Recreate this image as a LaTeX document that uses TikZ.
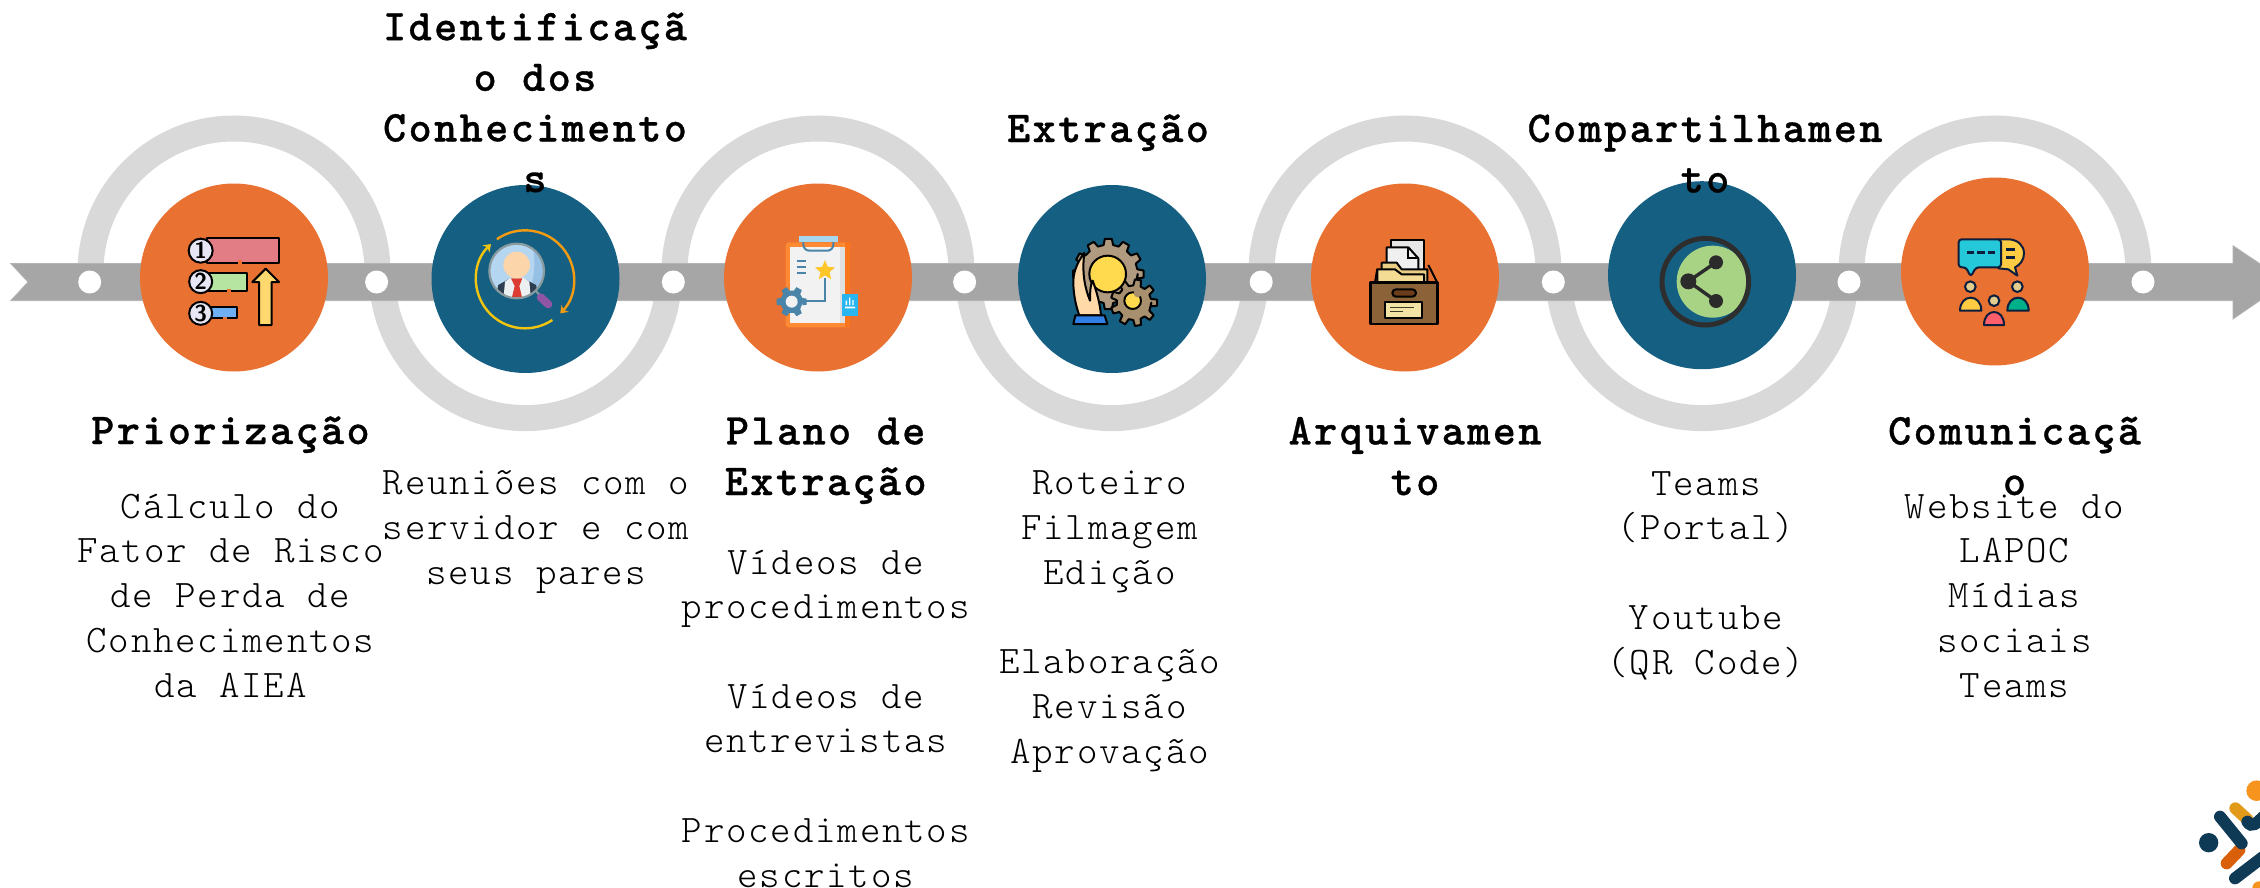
\documentclass[tikz,border=0pt]{standalone}
\usepackage{fontspec}
\usetikzlibrary{arrows.meta,shapes.geometric,calc}
\newfontfamily\bodyfam[LetterSpace=4.6]{Latin Modern Mono Light}
\newfontfamily\titlefam[LetterSpace=5.5,BoldFeatures={FakeBold=0.7}]{Latin Modern Mono Light}
\definecolor{orangeC}{HTML}{E97132}
\definecolor{blueC}{HTML}{156082}
\definecolor{ringC}{HTML}{D9D9D9}
\definecolor{bandC}{HTML}{A6A6A6}
\definecolor{inkC}{HTML}{0B1E3D}
\definecolor{logoC}{HTML}{0E3A55}
\definecolor{gearB}{HTML}{4A84A8}
\definecolor{paleC}{HTML}{E6E6F5}
\definecolor{cyanC}{HTML}{24C8D8}
\definecolor{sunC}{HTML}{FFCB42}
\tikzset{
  ringarc/.style={draw=ringC,line width=13pt},
  disc/.style={circle,minimum size=94pt,inner sep=0pt,draw=none},
  orangedisc/.style={disc,fill=orangeC},
  bluedisc/.style={disc,fill=blueC},
  hole/.style={circle,fill=white,minimum size=11.5pt,inner sep=0pt},
  titletxt/.style={anchor=base,inner sep=0pt,align=center,font=\titlefam\bfseries\fontsize{22}{25.3}\selectfont},
  bodytxt/.style={anchor=base,inner sep=0pt,align=center,font=\bodyfam\fontsize{19.5}{22.35}\selectfont},
  iconbox/.style={x=0.16667pt,y=-0.16667pt},
  ol/.style={draw=black,line width=1pt,line join=round},
  oln/.style={draw=inkC,line width=1pt,line join=round},
  numtxt/.style={inner sep=0pt,font=\sffamily\bfseries\fontsize{11.5}{11.5}\selectfont}
}
\newcommand{\gearat}[6]{%
  \begin{scope}[shift={(#1,#2)}]
    \draw[#6] (0:#4) \foreach \k [evaluate=\k as \a using 360/#3*\k] in {1,...,#3}{
      -- ({\a-180/#3*0.62}:#4) -- ({\a-180/#3*0.38}:#5) -- ({\a+180/#3*0.38}:#5) -- ({\a+180/#3*0.62}:#4)
    } -- cycle;
  \end{scope}}
\begin{document}
\begin{tikzpicture}[x=0.5pt,y=-0.5pt]
\useasboundingbox (0,0) rectangle (2260,888);
\clip (0,0) rectangle (2260,888);
% rings
\foreach \cx in {234,818,1405,1995}{
  \draw[ringarc] (\cx-143.5,272) arc[start angle=180,end angle=360,radius=143.5];
}
\foreach \cx in {525.5,1112,1702}{
  \draw[ringarc] (\cx-143.5,274.6) arc[start angle=180,end angle=0,radius=143.5];
}
% band
\fill[bandC,draw=bandC!85!white,line width=0.4pt]
  (10.7,263.5) -- (2233,263.5) -- (2233,245.7) -- (2287,282) -- (2233,319) -- (2233,300.7) -- (10.7,300.7) -- (28,282) -- cycle;
% holes
\node[hole] (h1) at (89.7,282) {};
\node[hole] (h2) at (376.6,282) {};
\node[hole] (h3) at (673.3,282) {};
\node[hole] (h4) at (964.6,282) {};
\node[hole] (h5) at (1261.2,282) {};
\node[hole] (h6) at (1553.3,282) {};
\node[hole] (h7) at (1849,282) {};
\node[hole] (h8) at (2143,282) {};
% discs
\node[orangedisc] (c1) at (234,277.5) {};
\node[bluedisc]   (c2) at (525.5,279) {};
\node[orangedisc] (c3) at (818,277.5) {};
\node[bluedisc]   (c4) at (1112,279) {};
\node[orangedisc] (c5) at (1405,277.5) {};
\node[bluedisc]   (c6) at (1702,275.2) {};
\node[orangedisc] (c7) at (1995,271.5) {};

% icon 1 : ranking
\begin{scope}[shift={(170,210)},iconbox]
  \draw[ol,fill={rgb,255:red,226;green,125;blue,133}] (110,85) rectangle (326,160);
  \fill[orangeC] (205,150) rectangle (217,168);
  \draw[ol,fill={rgb,255:red,181;green,229;blue,160}] (110,188) rectangle (232,242);
  \fill[orangeC] (170,236) rectangle (182,248);
  \draw[ol,fill={rgb,255:red,111;green,176;blue,245}] (115,292) rectangle (202,325);
  \fill[orangeC] (160,320) rectangle (172,330);
  \node[circle,ol,fill=paleC,minimum size=12pt,inner sep=0pt,numtxt] (n1) at (92,122) {1};
  \node[circle,ol,fill=paleC,minimum size=11.5pt,inner sep=0pt,numtxt] (n2) at (92,215) {2};
  \node[circle,ol,fill=paleC,minimum size=11.5pt,inner sep=0pt,numtxt] (n3) at (92,310) {3};
  \draw[ol,fill={rgb,255:red,255;green,217;blue,112}] (287,176) -- (327,216) -- (305,216) -- (305,345) -- (267,345) -- (267,216) -- (247,216) -- cycle;
\end{scope}

% icon 2 : person under magnifier
\begin{scope}[shift={(450,210)},iconbox]
  \draw[line width=1.2pt,draw={rgb,255:red,243;green,156;blue,18},-{Stealth[length=3.5pt,width=5pt]}] (225,208)++(-125:147) arc[start angle=-125,end angle=44,radius=147];
  \draw[line width=1.2pt,draw={rgb,255:red,241;green,196;blue,15},-{Stealth[length=3.5pt,width=5pt]}] (225,208)++(56:147) arc[start angle=56,end angle=226,radius=147];
  \draw[line width=1pt,draw={rgb,255:red,138;green,155;blue,160}] (255,240) -- (275,262);
  \draw[line width=4pt,line cap=round,draw={rgb,255:red,144;green,86;blue,166}] (272,262) -- (295,283);
  \fill[fill={rgb,255:red,181;green,214;blue,240}] (200,183) circle[radius=82];
  \begin{scope}
    \clip (200,183) circle[radius=82];
    \fill[fill={rgb,255:red,150;green,192;blue,228}] (245,100) -- (290,100) -- (290,270) -- (225,270) .. controls (255,220) and (260,150) .. (245,100) -- cycle;
    \fill[fill={rgb,255:red,44;green,62;blue,80}] (135,270) -- (145,225) -- (180,205) -- (220,205) -- (258,225) -- (268,270) -- cycle;
    \fill[fill={rgb,255:red,236;green,240;blue,241}] (160,270) -- (165,215) -- (182,203) -- (220,203) -- (238,215) -- (243,270) -- cycle;
    \fill[fill={rgb,255:red,220;green,60;blue,50}] (183,205) -- (217,205) -- (208,228) -- (218,270) -- (184,270) -- (194,228) -- cycle;
  \end{scope}
  \fill[fill={rgb,255:red,253;green,213;blue,171}] (200,165) circle[radius=40];
  \draw[line width=1.1pt,draw={rgb,255:red,138;green,155;blue,160}] (200,183) circle[radius=82];
\end{scope}

% icon 3 : clipboard
\begin{scope}[shift={(745,210)},iconbox]
  \fill[rounded corners=1.5pt,fill={rgb,255:red,254;green,138;blue,51}] (122,97) rectangle (314,352);
  \fill[fill={rgb,255:red,249;green,118;blue,30}] (300,97) rectangle (314,352);
  \fill[fill={rgb,255:red,242;green,242;blue,242}] (136,110) rectangle (300,338);
  \fill[fill={rgb,255:red,224;green,224;blue,224}] (286,110) rectangle (300,338);
  \draw[line width=1pt,draw=gearB,rounded corners=3pt] (175,90) -- (175,122) -- (265,122) -- (265,90);
  \fill[fill={rgb,255:red,168;green,216;blue,240}] (162,78) rectangle (278,97);
  \draw[line width=1pt,draw=gearB] (155,152) -- (182,152) (155,170) -- (182,170) (155,189) -- (182,189);
  \draw[line width=1pt,draw=gearB] (240,205) -- (240,272) -- (175,272);
  \node[star,star points=5,star point ratio=2.2,fill={rgb,255:red,255;green,198;blue,42},minimum size=10.5pt,inner sep=0pt] (st) at (240,182) {};
  \gearat{140}{275}{6}{34}{46}{fill=gearB,draw=none}
  \fill[fill={rgb,255:red,242;green,242;blue,242}] (140,275) circle[radius=18];
  \fill[fill={rgb,255:red,41;green,182;blue,240}] (290,252) rectangle (340,318);
  \fill[white] (312,263) rectangle (316,285) (302,272) rectangle (306,285) (322,270) rectangle (326,285) (300,290) rectangle (330,295);
\end{scope}

% icon 4 : hand with gears
\begin{scope}[shift={(1040,210)},iconbox]
  \gearat{205}{192}{12}{88}{106}{fill={rgb,255:red,176;green,154;blue,128},ol}
  \gearat{282}{278}{9}{52}{70}{fill={rgb,255:red,168;green,144;blue,111},ol}
  \draw[ol,fill={rgb,255:red,255;green,217;blue,78}] (278,272) circle[radius=25];
  \fill[fill={rgb,255:red,168;green,144;blue,111}] (293,250) circle[radius=12];
  \draw[ol,fill={rgb,255:red,255;green,217;blue,78}] (203,192) circle[radius=55];
  \draw[ol,fill={rgb,255:red,255;green,217;blue,168}] (133,128) .. controls (110,160) and (98,190) .. (100,225) .. controls (102,265) and (110,295) .. (118,316) -- (183,316) .. controls (180,280) and (170,245) .. (158,212) .. controls (152,222) and (150,240) .. (150,272) .. controls (135,235) and (125,190) .. (133,128) -- cycle;
  \draw[ol,fill={rgb,255:red,47;green,127;blue,230}] (106,316) -- (194,316) -- (202,342) -- (100,342) -- cycle;
\end{scope}

% icon 5 : archive drawer
\begin{scope}[shift={(1340,210)},iconbox]
  \draw[ol,fill={rgb,255:red,230;green,230;blue,230}] (152,90) rectangle (253,190);
  \draw[ol,fill={rgb,255:red,240;green,240;blue,240}] (140,112) -- (205,112) -- (235,145) -- (235,195) -- (140,195) -- cycle;
  \draw[line width=1pt] (205,112) -- (205,145) -- (235,145);
  \draw[ol] (105,218) -- (112,176) (265,165) -- (292,218);
  \draw[ol,fill={rgb,255:red,232;green,207;blue,133}] (125,158) -- (170,158) -- (185,178) -- (262,178) -- (262,218) -- (125,218) -- cycle;
  \draw[ol,fill={rgb,255:red,245;green,220;blue,149}] (112,178) -- (165,178) -- (185,193) -- (252,193) -- (252,220) -- (112,220) -- cycle;
  \draw[line width=1.2pt,draw=black,line join=round,fill={rgb,255:red,140;green,98;blue,57}] (92,218) rectangle (292,342);
  \draw[ol,fill={rgb,255:red,107;green,61;blue,26},rounded corners=1.8pt] (157,238) rectangle (228,260);
  \draw[ol,fill={rgb,255:red,243;green,227;blue,165}] (135,275) rectangle (247,325);
  \draw[line width=0.8pt,draw={rgb,255:red,60;green,60;blue,40}] (150,293) -- (222,293) (150,305) -- (190,305);
\end{scope}

% icon 6 : share
\begin{scope}[shift={(1630,210)},iconbox]
  \begin{scope}
    \clip (226,215) circle[radius=130];
    \fill[fill={rgb,255:red,169;green,211;blue,132}] (248,215) circle[radius=108];
  \end{scope}
  \draw[line width=2.5pt,draw={rgb,255:red,46;green,46;blue,46}] (226,215) circle[radius=130];
  \draw[line width=1.7pt,draw={rgb,255:red,43;green,43;blue,43}] (258,157) -- (175,214) -- (258,273);
  \fill[fill={rgb,255:red,43;green,43;blue,43}] (258,157) circle[radius=21] (175,214) circle[radius=24] (258,273) circle[radius=21];
\end{scope}

% icon 7 : people talking
\begin{scope}[shift={(1920,210)},iconbox]
  \draw[oln,fill=sunC] (235,88) -- (268,88) .. controls (295,90) and (312,108) .. (312,130) .. controls (312,150) and (300,165) .. (285,172) -- (292,197) -- (265,178) -- (235,175) -- cycle;
  \draw[oln,fill=cyanC,rounded corners=1.5pt] (116,88) -- (243,88) -- (243,172) -- (168,172) -- (152,200) -- (138,172) -- (116,172) -- cycle;
  \draw[line width=1.2pt,draw=inkC] (140,127) -- (163,127) (172,127) -- (195,127) (203,127) -- (225,127) (258,118) -- (285,118) (258,143) -- (285,143);
  \draw[oln,fill={rgb,255:red,227;green,205;blue,142}] (151,230) circle[radius=16] (292,230) circle[radius=16] (222,272) circle[radius=16];
  \draw[oln,fill=sunC] (120,302) .. controls (120,250) and (184,250) .. (184,302) -- cycle;
  \draw[oln,fill={rgb,255:red,0;green,176;blue,138}] (262,302) .. controls (262,250) and (326,250) .. (326,302) -- cycle;
  \draw[oln,fill={rgb,255:red,255;green,95;blue,109}] (192,345) .. controls (192,293) and (252,293) .. (252,345) -- cycle;
\end{scope}

% logo
\begin{scope}[shift={(2160,760)},iconbox]
  \fill[fill={rgb,255:red,247;green,148;blue,30}] (290,92) circle[radius=31];
  \draw[line width=6pt,line cap=round,draw={rgb,255:red,226;green,154;blue,26}] (226,145) -- (262,178);
  \draw[line width=6pt,line cap=round,draw=logoC] (262,185) .. controls (275,205) and (290,190) .. (310,170);
  \draw[line width=6pt,line cap=round,draw={rgb,255:red,217;green,95;blue,10}] (200,310) -- (238,270);
  \fill[fill={rgb,255:red,247;green,148;blue,30}] (297,384) circle[radius=20];
  \fill[logoC] (146,248) circle[radius=29];
  \draw[line width=6pt,line cap=round,draw=logoC] (180,170) -- (245,250);
  \draw[line width=6pt,line cap=round,draw=logoC] (225,355) -- (310,290);
\end{scope}

% titles
\node[titletxt] (t1) at (230.5,444) {Priorização};
\node[titletxt] (t2) at (535,192) {Identificaçã\\o dos\\Conhecimento\\s};
\node[titletxt] (t3) at (825.7,495) {Plano de\\Extração};
\node[titletxt] (t4) at (1108,142) {Extração};
\node[titletxt] (t5) at (1415,495) {Arquivamen\\to};
\node[titletxt] (t6) at (1705,192.5) {Compartilhamen\\to};
\node[titletxt] (t7) at (2014.5,495) {Comunicaçã\\o};
% body
\node[bodytxt] (b1) at (230.5,697) {Cálculo do\\Fator de Risco\\de Perda de\\Conhecimentos\\da AIEA};
\node[bodytxt] (b2) at (536,584) {Reuniões com o\\servidor e com\\seus pares};
\node[bodytxt] (b3) at (825.7,887) {Vídeos de\\procedimentos\\[22.35pt]Vídeos de\\entrevistas\\[22.35pt]Procedimentos\\escritos};
\node[bodytxt] (b4) at (1109.6,763) {Roteiro\\Filmagem\\Edição\\[22.35pt]Elaboração\\Revisão\\Aprovação};
\node[bodytxt] (b6) at (1706,674) {Teams\\(Portal)\\[22.35pt]Youtube\\(QR Code)};
\node[bodytxt] (b7) at (2014.5,697) {Website do\\LAPOC\\Mídias\\sociais\\Teams};
\end{tikzpicture}
\end{document}
